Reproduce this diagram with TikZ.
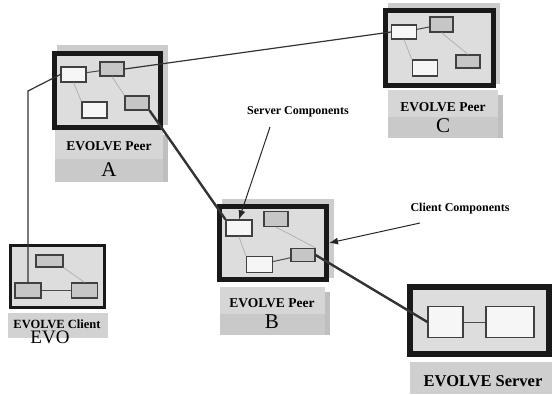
\documentclass[tikz,border=0pt]{standalone}
\usepackage{fontspec}
\setmainfont{Liberation Serif}
\usetikzlibrary{arrows.meta}

\tikzset{
    frame/.style={draw=black!90, line width=5pt, fill=gray!27, minimum width=#1, inner sep=0pt},
    wbox/.style={draw=black!75, line width=1.3pt, fill=gray!7, inner sep=0pt, minimum width=25pt, minimum height=15pt},
    dbox/.style={draw=black!75, line width=1.3pt, fill=gray!45, inner sep=0pt, minimum width=24pt, minimum height=14pt},
    faint/.style={gray!60, line width=0.8pt},
    solid link/.style={black!70, line width=1pt},
    wire/.style={black!80, line width=1.2pt},
    heavy/.style={gray!40!black, line width=2.4pt},
    note/.style={font=\fontsize{12}{14}\selectfont\bfseries},
    pointer/.style={black!85, line width=1pt, -{Latex[length=9pt, width=7pt]}}
}

\begin{document}
\begin{tikzpicture}[x=1pt, y=-1pt]

    \useasboundingbox (0,0) rectangle (552,394);

    % Shadows behind the boxes
    \fill[gray!40] (57,45) rectangle (168,125);
    \fill[gray!40] (388,3) rectangle (500,84);
    \fill[gray!40] (222,199) rectangle (334,278);

    % Label plates (upper part lighter, lower part darker)
    \foreach \lx/\ly/\rx/\ry in {55/130/163/182, 388/90/498/138, 220/287/325/335} {
        \fill[gray!32] (\lx,\ly) rectangle (\rx,{(\ly+\ry)/2+3});
        \fill[gray!42] (\lx,{(\ly+\ry)/2+3}) rectangle (\rx,\ry);
        \fill[gray!50] (\rx,\ly+5) rectangle (\rx+5,\ry);
    }
    \fill[gray!35] (8,313) rectangle (108,338);
    \fill[gray!38] (410,362) rectangle (552,394);

    % Peer A
    \node[frame=106pt, minimum height=74pt] (peerA) at (107.5,90.5) {};
    \node[wbox] (a1) at (73.5,74.5) {};
    \node[dbox] (a2) at (112,69) {};
    \node[wbox, minimum height=16pt] (a3) at (94.5,110) {};
    \node[dbox] (a4) at (137,103) {};
    \draw[solid link] (a1) -- (a2);
    \draw[faint] (a1.south) -- (a3.north west);
    \draw[faint] (a2.south) -- (a4.north west);
    \node[font=\fontsize{13.5}{15}\selectfont\bfseries] (labA) at (109,146) {EVOLVE Peer};
    \node[font=\fontsize{21}{23}\selectfont] (letA) at (109,170) {A};

    % Peer C
    \node[frame=108pt, minimum height=75pt] (peerC) at (439.5,47.5) {};
    \node[wbox, minimum height=14pt] (c1) at (404,32) {};
    \node[dbox, minimum width=23pt, minimum height=15pt] (c2) at (441.5,24.5) {};
    \node[wbox, minimum height=16pt] (c3) at (425,68) {};
    \node[dbox, minimum height=13pt] (c4) at (468,61.5) {};
    \draw[solid link] (c1) -- (c2);
    \draw[faint] (c1.south) -- (c3.north west);
    \draw[faint] (c2.south) -- (c4.north);
    \node[font=\fontsize{13.5}{15}\selectfont\bfseries] (labC) at (443,107) {EVOLVE Peer};
    \node[font=\fontsize{21}{23}\selectfont] (letC) at (443,126) {C};

    % Peer B
    \node[frame=107pt, minimum height=73pt] (peerB) at (273,243) {};
    \node[wbox, minimum width=26pt, minimum height=16pt] (b1) at (239,228) {};
    \node[dbox, minimum height=15pt] (b2) at (276,219) {};
    \node[wbox, minimum width=26pt, minimum height=16pt] (b3) at (259.5,264.5) {};
    \node[dbox, minimum height=13pt] (b4) at (303,255) {};
    \draw[solid link] (b3) -- (b4);
    \draw[faint] (b1.south) -- (b3.north west);
    \draw[faint] (b2.south) -- (b4.north east);
    \node[font=\fontsize{13.5}{15}\selectfont\bfseries] (labB) at (272,303) {EVOLVE Peer};
    \node[font=\fontsize{21}{23}\selectfont] (letB) at (272,322) {B};

    % EVOLVE Client
    \node[frame=94pt, line width=3pt, minimum height=62pt] (client) at (57.5,276.5) {};
    \node[dbox, minimum width=27pt, minimum height=12pt] (k1) at (49.5,261) {};
    \node[dbox, minimum width=26pt, minimum height=15pt] (k2) at (28,290.5) {};
    \node[dbox, minimum width=26pt, minimum height=15pt] (k3) at (84.5,290.5) {};
    \draw[solid link] (k2) -- (k3);
    \draw[faint] (k1.south east) -- (k3.north);
    \node[font=\fontsize{12.5}{14}\selectfont\bfseries] (labK) at (57,324) {EVOLVE Client};
    \node[font=\fontsize{19}{21}\selectfont] (evo) at (50,337) {EVO};

    % EVOLVE Server
    \node[frame=139pt, line width=6pt, minimum height=67pt] (server) at (479.5,320.5) {};
    \node[wbox, minimum width=35pt, minimum height=31pt] (s1) at (445.5,322) {};
    \node[wbox, minimum width=48pt, minimum height=31pt] (s2) at (510,322) {};
    \draw[solid link] (s1) -- (s2);
    \node[font=\fontsize{16.5}{18}\selectfont\bfseries] (labS) at (483,381) {EVOLVE Server};

    % Connections between the machines
    \draw[wire] (a2.east) -- (c1.west);
    \coordinate (bend) at (28,91);
    \draw[wire] (a1.west) -- (bend) -- (k2.north);
    \draw[heavy] (a4.south east) -- (b1.north west);
    \draw[heavy] (b4.east) -- (s1.west);

    % Annotations
    \node[note] (srvnote) at (298,112) {Server Components};
    \node[note] (clinote) at (460,209) {Client Components};
    \coordinate (srvtail) at (270,127);
    \coordinate (clitail) at (420,223);
    \draw[pointer] (srvtail) -- (b1.north);
    \draw[pointer] (clitail) -- (peerB.east);

\end{tikzpicture}
\end{document}
